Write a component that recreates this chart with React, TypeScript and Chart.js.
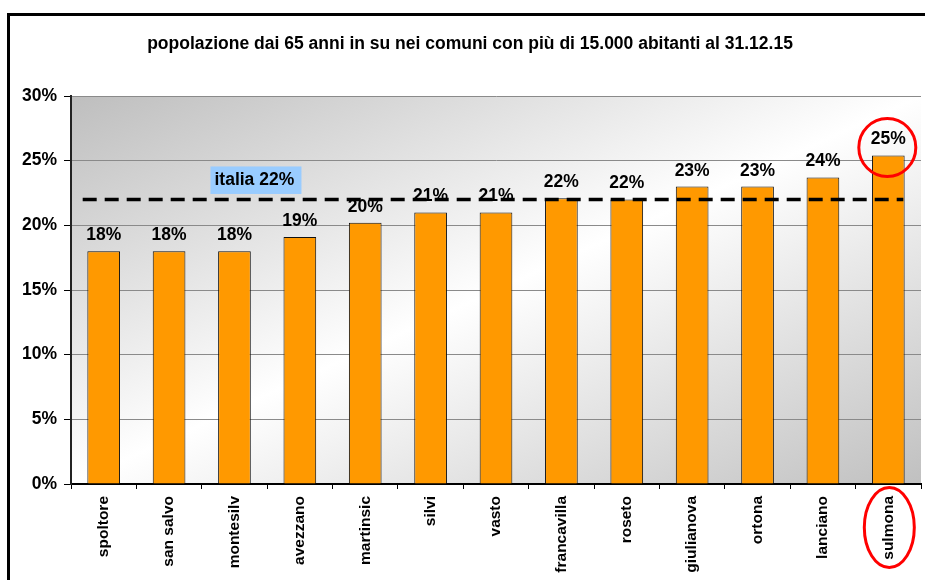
import React, { useEffect, useRef } from 'react';
import { Chart, registerables } from 'chart.js';

Chart.register(...registerables);

const categories = ['spoltore', 'san salvo', 'montesilv', 'avezzano', 'martinsic', 'silvi', 'vasto', 'francavilla', 'roseto', 'giulianova', 'ortona', 'lanciano', 'sulmona'];
const values = [18.0, 18.0, 18.0, 19.1, 20.2, 21.0, 21.0, 22.1, 22.0, 23.0, 23.0, 23.7, 25.4];
const italiaValue = 22.0;
const italiaLabel = 'italia 22%';
const yTickValues = [0, 5, 10, 15, 20, 25, 30];
const highlightIndex = 12;
const titleText = 'popolazione dai 65 anni in su nei comuni con più di 15.000 abitanti al 31.12.15';

const FONT = '"Liberation Sans", Arial, sans-serif';

const decorPlugin = {
  id: 'decor',
  beforeDraw(chart: any) {
    const { ctx, chartArea: a } = chart;
    ctx.save();
    ctx.fillStyle = '#ffffff';
    ctx.fillRect(0, 0, chart.width, chart.height);
    // frame
    ctx.strokeStyle = '#000';
    ctx.lineWidth = 3;
    ctx.strokeRect(8.5, 14.5, 1200, 1200);
    // title
    ctx.fillStyle = '#000';
    ctx.font = `bold 17.5px ${FONT}`;
    ctx.textAlign = 'center';
    ctx.textBaseline = 'middle';
    ctx.fillText(titleText, 470, 44);
    // gradient background in plot area
    const cx = (a.left + a.right) / 2;
    const cy = (a.top + a.bottom) / 2;
    const w = a.right - a.left;
    const h = a.bottom - a.top;
    const dx = h, dy = w;
    const len = Math.sqrt(dx * dx + dy * dy);
    const proj = ((w / 2) * dx + (h / 2) * dy) / len;
    const k = proj / len;
    const g = ctx.createLinearGradient(cx - k * dx, cy - k * dy, cx + k * dx, cy + k * dy);
    g.addColorStop(0, '#bebebe');
    g.addColorStop(0.5, '#ffffff');
    g.addColorStop(1, '#c0c0c0');
    ctx.fillStyle = g;
    ctx.fillRect(a.left, a.top, w, h);
    ctx.restore();
  },
  afterDatasetsDraw(chart: any) {
    const { ctx } = chart;
    const xs = chart.scales.x;
    const ys = chart.scales.y;
    const meta = chart.getDatasetMeta(0);
    ctx.save();
    // value labels
    ctx.fillStyle = '#000';
    ctx.font = `bold 17.5px ${FONT}`;
    ctx.textAlign = 'center';
    ctx.textBaseline = 'alphabetic';
    meta.data.forEach((bar: any, i: number) => {
      ctx.fillText(Math.round(values[i]) + '%', bar.x, bar.y - 11);
    });
    // italia dashed line
    const yl = ys.getPixelForValue(italiaValue);
    ctx.strokeStyle = '#000';
    ctx.lineWidth = 3.5;
    ctx.setLineDash([14, 8]);
    ctx.beginPath();
    ctx.moveTo(xs.getPixelForValue(0) - 21, yl);
    ctx.lineTo(xs.getPixelForValue(categories.length - 1) + 15, yl);
    ctx.stroke();
    ctx.setLineDash([]);
    // italia label box
    const bx = xs.getPixelForValue(2) - 24;
    const by = yl - 33;
    ctx.fillStyle = '#99ccff';
    ctx.fillRect(bx, by, 91, 27.5);
    ctx.fillStyle = '#000';
    ctx.font = `bold 17.5px ${FONT}`;
    ctx.textAlign = 'left';
    ctx.textBaseline = 'middle';
    ctx.fillText(italiaLabel, bx + 4, by + 14);
    // red highlight ellipses
    const hb = meta.data[highlightIndex];
    ctx.strokeStyle = '#ff0000';
    ctx.lineWidth = 3;
    ctx.beginPath();
    ctx.ellipse(hb.x - 1, hb.y - 8, 28.5, 29, 0, 0, Math.PI * 2);
    ctx.stroke();
    ctx.beginPath();
    ctx.ellipse(hb.x + 1, xs.bottom - 52.5, 25, 40, 0, 0, Math.PI * 2);
    ctx.stroke();
    ctx.restore();
  },
};

export default function App() {
  const ref = useRef<HTMLCanvasElement>(null);
  useEffect(() => {
    if (!ref.current) return;
    const chart = new Chart(ref.current, {
      type: 'bar',
      data: {
        labels: categories,
        datasets: [
          {
            data: values,
            backgroundColor: '#ff9900',
            borderColor: '#111',
            borderWidth: 1,
            categoryPercentage: 1,
            barPercentage: 0.5,
          },
        ],
      },
      options: {
        animation: false,
        responsive: false,
        devicePixelRatio: 1,
        layout: { padding: { top: 96, left: 0, right: 4, bottom: 0 } },
        plugins: {
          legend: { display: false },
          tooltip: { enabled: false },
          title: { display: false },
        },
        scales: {
          x: {
            offset: true,
            grid: {
              offset: true,
              drawOnChartArea: false,
              drawTicks: true,
              tickLength: 5,
              tickColor: '#000',
            },
            border: { color: '#000', width: 2 },
            ticks: {
              autoSkip: false,
              maxRotation: 90,
              minRotation: 90,
              padding: 7,
              color: '#000',
              font: { family: FONT, size: 15.5, weight: 'bold' },
            },
            afterFit(scale: any) {
              scale.height = 96;
            },
          },
          y: {
            min: 0,
            max: 30,
            afterBuildTicks(scale: any) {
              scale.ticks = yTickValues.map((v) => ({ value: v }));
            },
            grid: {
              color: '#8a8a8a',
              lineWidth: 1,
              tickLength: 7,
              tickColor: '#000',
            },
            border: { color: '#222', width: 2 },
            ticks: {
              padding: 7,
              color: '#000',
              font: { family: FONT, size: 17.5, weight: 'bold' },
              callback: (v: any) => v + '%',
            },
            afterFit(scale: any) {
              scale.width = 71;
            },
          },
        },
      },
      plugins: [decorPlugin],
    });
    return () => chart.destroy();
  }, []);
  return (
    <div style={{ position: 'absolute', left: 0, top: 0, width: 925, height: 580 }}>
      <canvas ref={ref} width={925} height={580} style={{ display: 'block', width: 925, height: 580 }} />
    </div>
  );
}
